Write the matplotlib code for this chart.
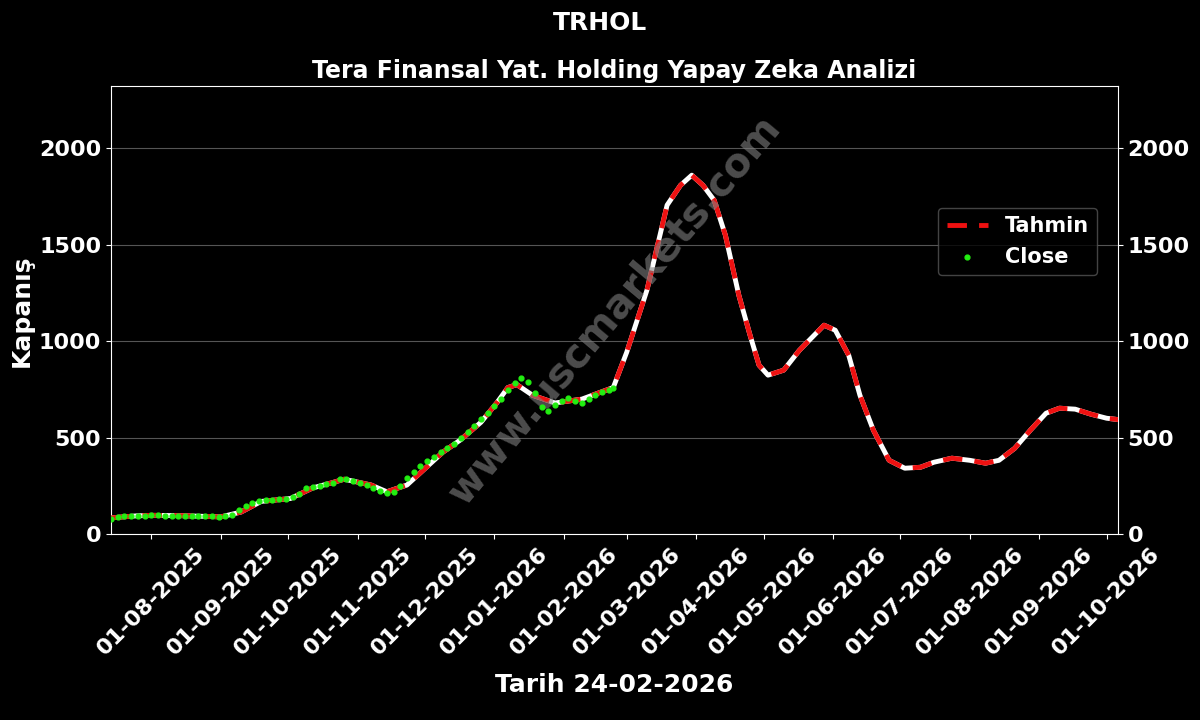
import matplotlib
matplotlib.use("Agg")
import matplotlib.pyplot as plt
import matplotlib.dates as mdates
import pandas as pd

tahmin_dates = ["2025-07-14","2025-07-25","2025-08-01","2025-08-15","2025-09-01","2025-09-10","2025-09-19","2025-10-02","2025-10-12","2025-10-20","2025-10-26","2025-11-07","2025-11-14","2025-11-23","2025-12-01","2025-12-09","2025-12-17","2025-12-26","2026-01-02","2026-01-07","2026-01-11","2026-01-18","2026-01-28","2026-02-09","2026-02-23",
                "2026-03-01","2026-03-10","2026-03-19","2026-03-25","2026-03-30","2026-04-04","2026-04-09","2026-04-14","2026-04-20","2026-04-25","2026-04-29","2026-05-03","2026-05-10","2026-05-17","2026-05-28","2026-06-02","2026-06-08","2026-06-13","2026-06-19","2026-06-26","2026-07-03","2026-07-10","2026-07-16","2026-07-24","2026-08-01","2026-08-08","2026-08-14","2026-08-21","2026-08-28","2026-09-04","2026-09-10","2026-09-17","2026-09-24","2026-10-01","2026-10-09"]
tahmin_vals = [85,95,98,96,90,115,170,185,240,265,285,255,220,255,340,425,490,580,680,760,775,720,680,700,760,
               943,1264,1705,1808,1860,1808,1730,1549,1238,1031,876,824,850,953,1083,1057,927,720,539,383,342,347,373,394,383,368,383,445,539,627,653,648,622,601,590]

close_dates = ["2025-07-14","2025-07-17","2025-07-20","2025-07-23","2025-07-26","2025-07-29","2025-08-01","2025-08-04","2025-08-07","2025-08-10","2025-08-13","2025-08-16","2025-08-19","2025-08-22","2025-08-25","2025-08-28","2025-08-31","2025-09-03","2025-09-06","2025-09-09","2025-09-12","2025-09-15","2025-09-18","2025-09-21","2025-09-24","2025-09-27","2025-09-30","2025-10-03","2025-10-06","2025-10-09","2025-10-12","2025-10-15","2025-10-18","2025-10-21","2025-10-24","2025-10-27","2025-10-30","2025-11-02","2025-11-05","2025-11-08","2025-11-11","2025-11-14","2025-11-17","2025-11-20","2025-11-23","2025-11-26","2025-11-29","2025-12-02","2025-12-05","2025-12-08","2025-12-11","2025-12-14","2025-12-17","2025-12-20","2025-12-23","2025-12-26","2025-12-29","2026-01-01","2026-01-04","2026-01-07","2026-01-10","2026-01-13","2026-01-16","2026-01-19","2026-01-22","2026-01-25","2026-01-28","2026-01-31","2026-02-03","2026-02-06","2026-02-09","2026-02-12","2026-02-15","2026-02-18","2026-02-21","2026-02-23"]
close_vals = [78,90,95,97,95,96,98,99,97,96,97,96,95,97,96,94,90,93,100,128,145,160,172,176,178,180,183,192,210,238,245,250,258,265,285,285,275,268,255,240,225,212,220,250,290,320,355,380,400,425,445,470,500,530,560,595,630,665,700,745,785,808,790,730,660,640,670,690,705,690,680,700,720,735,745,756]

plt.rcParams['font.family'] = ['DejaVu Sans']
plt.rcParams['font.weight'] = 'bold'
fig = plt.figure(figsize=(12, 7.2), dpi=100, facecolor='black')
ax = fig.add_axes([0.0925, 0.258, 0.839, 0.622], facecolor='black')

td = pd.to_datetime(tahmin_dates)
cd = pd.to_datetime(close_dates)
ax.plot(td, tahmin_vals, color='white', lw=3.5, zorder=2)
ax.plot(td, tahmin_vals, color='#ee1111', lw=3.5, ls=(0, (4, 2.5)), zorder=3, label='Tahmin')
ax.scatter(cd, close_vals, color='#22ee11', s=12, zorder=4, label='Close')

ax.set_xlim(pd.Timestamp("2025-07-14"), pd.Timestamp("2026-10-06"))
ax.set_ylim(0, 2320)
ax.set_yticks([0, 500, 1000, 1500, 2000])
ax.xaxis.set_major_locator(mdates.MonthLocator())
ax.xaxis.set_major_formatter(mdates.DateFormatter('%d-%m-%Y'))
ax.grid(axis='y', color='#555555', lw=0.8)
for s in ax.spines.values():
    s.set_color('white')
ax.tick_params(colors='white', labelsize=16, right=True, labelright=True)
for lab in ax.get_xticklabels():
    lab.set_rotation(45); lab.set_fontweight('bold')
for lab in ax.get_yticklabels():
    lab.set_fontweight('bold')
ax.set_ylabel('Kapanış', color='white', fontsize=18, fontweight='bold')
ax.set_xlabel('Tarih 24-02-2026', color='white', fontsize=18, fontweight='bold', labelpad=10)
ax.set_title('Tera Finansal Yat. Holding Yapay Zeka Analizi', color='white', fontsize=17, fontweight='bold', pad=6)
fig.suptitle('TRHOL', color='white', fontsize=18, fontweight='bold', y=0.985)
ax.text(0.50, 0.50, 'www.uscmarkets.com', transform=ax.transAxes, fontsize=29, color='gray', alpha=0.6,
        rotation=50, ha='center', va='center', fontweight='bold')
leg = ax.legend(loc='center right', bbox_to_anchor=(0.99, 0.654), facecolor='black', edgecolor='#555555',
                fontsize=15, labelcolor='white')
for t in leg.get_texts():
    t.set_fontweight('bold')
fig.savefig('out.png', facecolor='black')
